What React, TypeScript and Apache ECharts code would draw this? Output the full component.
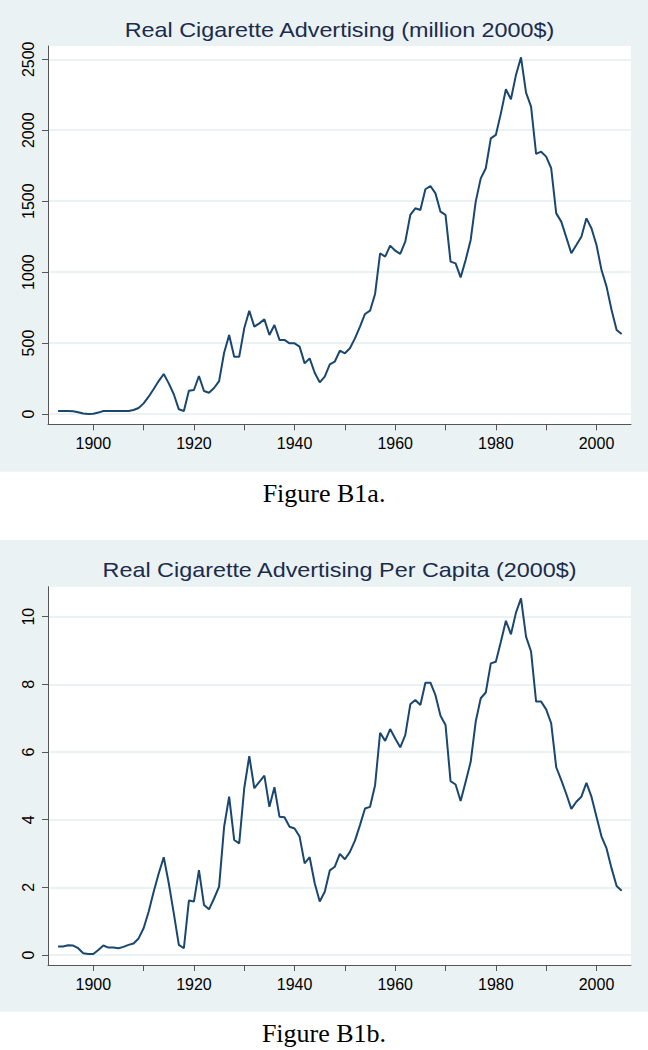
import React, { useEffect, useRef } from "react";
import * as echarts from "echarts";

const years = [
  1893, 1894, 1895, 1896, 1897, 1898, 1899, 1900, 1901, 1902, 1903, 1904, 1905, 1906, 1907, 1908, 1909,
  1910, 1911, 1912, 1913, 1914, 1915, 1916, 1917, 1918, 1919, 1920, 1921, 1922, 1923, 1924, 1925, 1926,
  1927, 1928, 1929, 1930, 1931, 1932, 1933, 1934, 1935, 1936, 1937, 1938, 1939, 1940, 1941, 1942, 1943,
  1944, 1945, 1946, 1947, 1948, 1949, 1950, 1951, 1952, 1953, 1954, 1955, 1956, 1957, 1958, 1959, 1960,
  1961, 1962, 1963, 1964, 1965, 1966, 1967, 1968, 1969, 1970, 1971, 1972, 1973, 1974, 1975, 1976, 1977,
  1978, 1979, 1980, 1981, 1982, 1983, 1984, 1985, 1986, 1987, 1988, 1989, 1990, 1991, 1992, 1993, 1994,
  1995, 1996, 1997, 1998, 1999, 2000, 2001, 2002, 2003, 2004, 2005,
];

// Real cigarette advertising, million 2000$
const adTotal = [
  21, 21, 21, 20, 12, 3, 0, 2, 10, 21, 21, 21, 21, 21, 21, 28, 42,
  75, 122, 176, 232, 282, 216, 139, 33, 21, 164, 169, 268, 162, 150, 183, 232, 432,
  557, 404, 404, 604, 728, 616, 639, 667, 557, 627, 522, 522, 498, 498, 475, 357, 392,
  291, 223, 263, 350, 370, 446, 428, 463, 533, 616, 705, 728, 846, 1133, 1109, 1187, 1151,
  1128, 1215, 1403, 1450, 1438, 1584, 1607, 1555, 1426, 1403, 1074, 1062, 963, 1086, 1227, 1497, 1661,
  1732, 1943, 1967, 2119, 2289, 2218, 2390, 2514, 2265, 2166, 1833, 1849, 1814, 1732, 1414, 1356, 1245,
  1133, 1191, 1250, 1379, 1309, 1191, 1015, 898, 733, 592, 564,
];

// Real cigarette advertising per capita, 2000$
const adPerCapita = [
  0.25, 0.25, 0.29, 0.28, 0.2, 0.05, 0.03, 0.03, 0.15, 0.28, 0.22, 0.22, 0.2, 0.24, 0.3, 0.34, 0.49,
  0.79, 1.28, 1.87, 2.41, 2.89, 2.12, 1.23, 0.3, 0.2, 1.61, 1.58, 2.51, 1.48, 1.35, 1.67, 2.02, 3.79,
  4.68, 3.4, 3.3, 4.93, 5.88, 4.93, 5.12, 5.3, 4.38, 4.96, 4.09, 4.07, 3.79, 3.74, 3.5, 2.71, 2.89,
  2.12, 1.58, 1.87, 2.5, 2.61, 2.99, 2.83, 3.05, 3.38, 3.84, 4.33, 4.38, 5.02, 6.57, 6.33, 6.68, 6.4,
  6.14, 6.5, 7.41, 7.54, 7.39, 8.05, 8.05, 7.68, 7.07, 6.8, 5.14, 5.04, 4.55, 5.12, 5.71, 6.9, 7.59,
  7.76, 8.62, 8.67, 9.26, 9.88, 9.48, 10.12, 10.54, 9.41, 8.97, 7.49, 7.49, 7.26, 6.85, 5.55, 5.17, 4.76,
  4.32, 4.53, 4.68, 5.09, 4.68, 4.09, 3.5, 3.15, 2.56, 2.04, 1.9,
];

const xTickValues = [1900, 1910, 1920, 1930, 1940, 1950, 1960, 1970, 1980, 1990, 2000];
const xLabelValues = [1900, 1920, 1940, 1960, 1980, 2000];
const yTicksTotal = [0, 500, 1000, 1500, 2000, 2500];
const yTicksPerCapita = [0, 2, 4, 6, 8, 10];

const titles = [
  "Real Cigarette Advertising (million 2000$)",
  "Real Cigarette Advertising Per Capita (2000$)",
];
const captions = ["Figure B1a.", "Figure B1b."];

const BG = "#eaf2f3";
const GRID_LINE = "#e4eef0";
const AXIS = "#555555";
const LINE = "#1a476f";
const TITLE_COLOR = "#1c2b4d";
const SANS = "'Liberation Sans', Arial, sans-serif";
const SERIF = "'Liberation Serif', 'Times New Roman', serif";

const plain = (v: number) => String(v);

export default function App() {
  const ref = useRef<HTMLDivElement>(null);

  useEffect(() => {
    if (!ref.current) return;
    const chart = echarts.init(ref.current, undefined, { renderer: "svg" });

    const panelTop = [0, 540];
    const gridTop = [46, 586.7];
    const yRanges = [
      { min: -72.6, max: 2593.8, ticks: yTicksTotal },
      { min: -0.2956, max: 10.887, ticks: yTicksPerCapita },
    ];
    const seriesData = [adTotal, adPerCapita];

    const option: any = {
      animation: false,
      grid: [0, 1].map((i) => ({
        left: 48,
        top: gridTop[i],
        width: 583,
        height: 378.3,
        show: true,
        backgroundColor: "#ffffff",
        borderWidth: 0,
        containLabel: false,
      })),
      xAxis: [0, 1].map((i) => ({
        type: "value",
        gridIndex: i,
        min: 1891.0,
        max: 2006.86,
        axisLine: { show: true, onZero: false, lineStyle: { color: AXIS, width: 1 } },
        axisTick: {
          show: true,
          length: 6,
          customValues: xTickValues,
          lineStyle: { color: AXIS, width: 1 },
        },
        axisLabel: {
          show: true,
          customValues: xLabelValues,
          formatter: plain,
          margin: 11,
          fontSize: 16,
          color: "#000",
          fontFamily: SANS,
        },
        splitLine: { show: false },
      })),
      yAxis: [0, 1].map((i) => ({
        type: "value",
        gridIndex: i,
        min: yRanges[i].min,
        max: yRanges[i].max,
        axisLine: { show: true, onZero: false, lineStyle: { color: AXIS, width: 1 } },
        axisTick: {
          show: true,
          length: 6,
          customValues: yRanges[i].ticks,
          lineStyle: { color: AXIS, width: 1 },
        },
        axisLabel: {
          show: true,
          customValues: yRanges[i].ticks,
          formatter: plain,
          rotate: 90,
          margin: 12,
          fontSize: 16,
          color: "#000",
          fontFamily: SANS,
        },
        splitLine: { show: true, lineStyle: { color: GRID_LINE, width: 1.5 } },
      })),
      series: [0, 1].map((i) => ({
        type: "line",
        xAxisIndex: i,
        yAxisIndex: i,
        data: years.map((y, k) => [y, seriesData[i][k]]),
        symbol: "none",
        showSymbol: false,
        silent: true,
        lineStyle: { color: LINE, width: 2 },
      })),
      graphic: [
        ...[0, 1].map((i) => ({
          type: "rect",
          z: -100,
          silent: true,
          shape: { x: 0, y: panelTop[i], width: 648, height: 471.7 },
          style: { fill: BG },
        })),
        ...[0, 1].map((i) => ({
          type: "text",
          silent: true,
          x: 339.5,
          y: panelTop[i] + 30,
          scaleX: 1.14,
          style: {
            text: titles[i],
            fontSize: 20.5,
            fontFamily: SANS,
            fill: TITLE_COLOR,
            align: "center",
            verticalAlign: "middle",
            textAlign: "center",
            textVerticalAlign: "middle",
          },
        })),
        ...[0, 1].map((i) => ({
          type: "text",
          silent: true,
          x: 324,
          y: panelTop[i] + 493.7,
          style: {
            text: captions[i],
            fontSize: 26,
            fontFamily: SERIF,
            fill: "#000",
            align: "center",
            verticalAlign: "middle",
            textAlign: "center",
            textVerticalAlign: "middle",
          },
        })),
      ],
    };

    chart.setOption(option);
    return () => chart.dispose();
  }, []);

  return (
    <div
      ref={ref}
      style={{ position: "absolute", left: 0, top: 0, width: 648, height: 1050, background: "#ffffff" }}
    />
  );
}
